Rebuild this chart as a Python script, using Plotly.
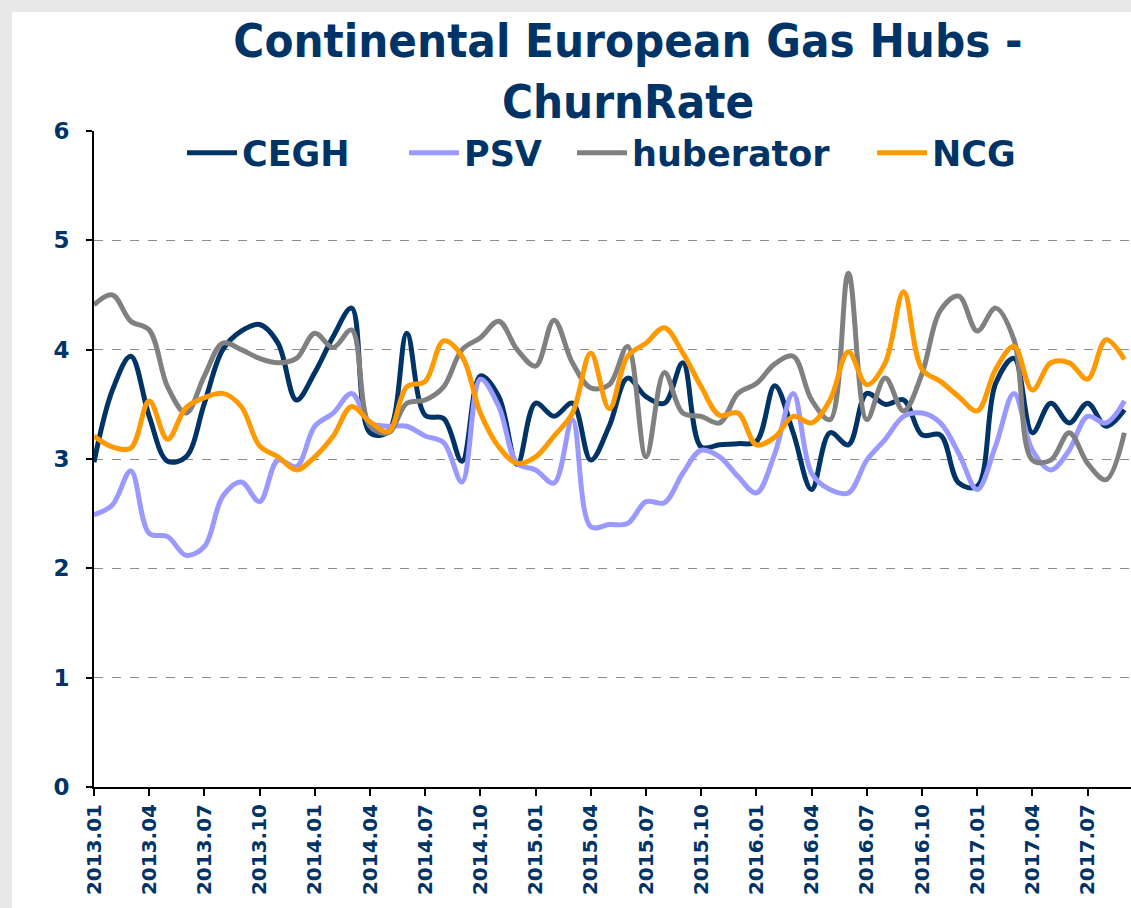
import plotly.graph_objects as go

months = [
    "2013.01", "2013.02", "2013.03", "2013.04", "2013.05", "2013.06", "2013.07", "2013.08", "2013.09", "2013.10", "2013.11", "2013.12",
    "2014.01", "2014.02", "2014.03", "2014.04", "2014.05", "2014.06", "2014.07", "2014.08", "2014.09", "2014.10", "2014.11", "2014.12",
    "2015.01", "2015.02", "2015.03", "2015.04", "2015.05", "2015.06", "2015.07", "2015.08", "2015.09", "2015.10", "2015.11", "2015.12",
    "2016.01", "2016.02", "2016.03", "2016.04", "2016.05", "2016.06", "2016.07", "2016.08", "2016.09", "2016.10", "2016.11", "2016.12",
    "2017.01", "2017.02", "2017.03", "2017.04", "2017.05", "2017.06", "2017.07", "2017.08", "2017.09",
]

tick_labels = [
    "2013.01", "2013.04", "2013.07", "2013.10", "2014.01", "2014.04", "2014.07", "2014.10",
    "2015.01", "2015.04", "2015.07", "2015.10", "2016.01", "2016.04", "2016.07", "2016.10",
    "2017.01", "2017.04", "2017.07",
]

cegh = [2.97, 3.63, 3.94, 3.39, 2.98, 3.02, 3.51, 4.00, 4.17, 4.23, 4.06, 3.54,
        3.79, 4.12, 4.38, 3.24, 3.25, 4.15, 3.40, 3.37, 2.98, 3.76, 3.57, 2.95,
        3.51, 3.39, 3.51, 2.99, 3.30, 3.74, 3.57, 3.51, 3.88, 3.11, 3.13, 3.14,
        3.16, 3.67, 3.24, 2.72, 3.24, 3.13, 3.60, 3.50, 3.54, 3.22, 3.22, 2.78,
        2.75, 3.69, 3.92, 3.24, 3.51, 3.33, 3.51, 3.30, 3.45]

psv = [2.49, 2.58, 2.89, 2.32, 2.29, 2.12, 2.20, 2.66, 2.79, 2.61, 2.99, 2.93,
       3.30, 3.42, 3.60, 3.33, 3.30, 3.30, 3.21, 3.15, 2.79, 3.73, 3.48, 2.96,
       2.90, 2.78, 3.36, 2.38, 2.40, 2.41, 2.61, 2.60, 2.87, 3.08, 3.02, 2.84,
       2.69, 3.05, 3.60, 2.87, 2.72, 2.69, 2.99, 3.18, 3.39, 3.42, 3.33, 3.05,
       2.72, 3.12, 3.60, 3.08, 2.90, 3.08, 3.39, 3.33, 3.53]

huberator = [4.41, 4.50, 4.26, 4.18, 3.66, 3.42, 3.76, 4.06, 4.00, 3.92, 3.88, 3.92,
             4.15, 4.02, 4.18, 3.30, 3.24, 3.51, 3.54, 3.66, 4.00, 4.11, 4.26, 4.00,
             3.85, 4.27, 3.88, 3.65, 3.68, 4.03, 3.02, 3.79, 3.42, 3.39, 3.33, 3.60,
             3.69, 3.87, 3.94, 3.54, 3.36, 4.70, 3.36, 3.74, 3.44, 3.78, 4.36, 4.49,
             4.17, 4.38, 4.09, 2.99, 2.99, 3.24, 2.96, 2.81, 3.24]

ncg = [3.21, 3.11, 3.10, 3.53, 3.18, 3.47, 3.56, 3.60, 3.48, 3.12, 3.02, 2.90,
       3.02, 3.21, 3.48, 3.34, 3.25, 3.66, 3.71, 4.08, 3.94, 3.42, 3.11, 2.96,
       3.02, 3.21, 3.42, 3.97, 3.46, 3.94, 4.06, 4.20, 3.97, 3.66, 3.40, 3.42,
       3.13, 3.20, 3.39, 3.33, 3.54, 3.98, 3.68, 3.88, 4.53, 3.82, 3.71, 3.57,
       3.44, 3.82, 4.03, 3.63, 3.88, 3.88, 3.73, 4.09, 3.91]

series = [
    ("CEGH", cegh, "#003366"),
    ("PSV", psv, "#9999FF"),
    ("huberator", huberator, "#808080"),
    ("NCG", ncg, "#FF9900"),
]

NAVY = "#003366"

W, H = 1131, 908
L, R, T, B = 94, 0, 131, 121
pw, ph = W - L - R, H - T - B


def px_x(p):
    return (p - L) / pw


def px_y(p):
    return (H - B - p) / ph


# legend start positions (pixels) for each entry
legend_px = [182, 404, 572, 872]
legend_ids = ["legend", "legend2", "legend3", "legend4"]

fig = go.Figure()
for (name, vals, color), lid in zip(series, legend_ids):
    fig.add_trace(go.Scatter(
        x=months, y=vals, name=name, mode="lines",
        line=dict(color=color, width=5, shape="spline", smoothing=1.0),
        legend=lid,
    ))

fig.add_shape(type="rect", xref="paper", yref="paper",
              x0=px_x(12), x1=px_x(1140), y0=px_y(920), y1=px_y(12),
              fillcolor="white", line=dict(width=0), layer="below")

legend_font = dict(family="DejaVu Sans", size=35, color=NAVY, weight="bold")
legends = {}
for lid, lx in zip(legend_ids, legend_px):
    legends[lid] = dict(
        orientation="h",
        x=px_x(lx), xanchor="left",
        y=px_y(153), yanchor="middle",
        font=legend_font,
        bgcolor="rgba(0,0,0,0)",
        itemwidth=50,
    )

fig.update_layout(
    width=W, height=H,
    margin=dict(l=L, r=R, t=T, b=B, pad=0),
    paper_bgcolor="#E8E8E8",
    plot_bgcolor="rgba(0,0,0,0)",
    title=dict(
        text="Continental European Gas Hubs -<br>ChurnRate",
        font=dict(family="DejaVu Sans Condensed, DejaVu Sans", size=47, color=NAVY, weight="bold"),
        x=628 / W, xanchor="center", xref="container",
        y=1 - 57 / H, yanchor="top", yref="container",
    ),
    showlegend=True,
    xaxis=dict(
        type="category",
        range=[0, (1131 - 94) / 18.4],
        tickmode="array", tickvals=tick_labels, ticktext=tick_labels,
        tickangle=-90,
        tickfont=dict(family="DejaVu Sans", size=20, color=NAVY, weight="bold"),
        showline=True, linecolor="black", linewidth=2,
        ticks="outside", ticklen=7, tickcolor="black", tickwidth=1.5,
        showgrid=False, zeroline=False,
    ),
    yaxis=dict(
        range=[0, 6], dtick=1,
        tickfont=dict(family="DejaVu Sans", size=23, color=NAVY, weight="bold"),
        showline=True, linecolor="black", linewidth=2,
        ticks="outside", ticklen=6, tickcolor="black", tickwidth=1.5,
        ticklabelstandoff=12,
        showgrid=True, gridcolor="#8C8C8C", gridwidth=1, griddash="dash",
        zeroline=False,
    ),
    **legends,
)

fig.write_html(
    "out.html",
    config={"displayModeBar": False},
    post_script="document.body.style.margin='0';document.body.style.overflow='hidden';",
)
